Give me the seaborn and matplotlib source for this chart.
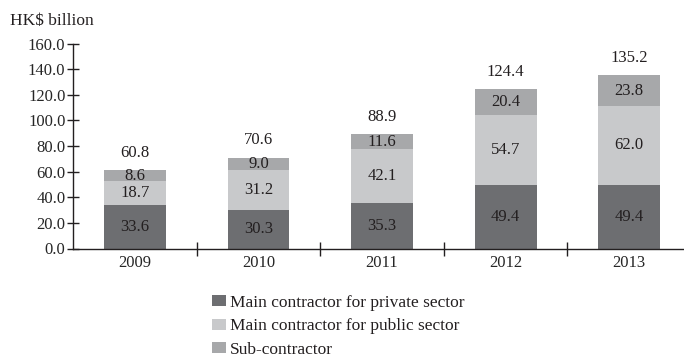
import matplotlib
matplotlib.use("Agg")
import matplotlib.pyplot as plt
from matplotlib.patches import Patch
import seaborn as sns
import pandas as pd

years = ["2009", "2010", "2011", "2012", "2013"]
private_sector = [33.6, 30.3, 35.3, 49.4, 49.4]
public_sector = [18.7, 31.2, 42.1, 54.7, 62.0]
sub_contractor = [8.6, 9.0, 11.6, 20.4, 23.8]
totals = [60.8, 70.6, 88.9, 124.4, 135.2]
series_names = ["Main contractor for private sector",
                "Main contractor for public sector",
                "Sub-contractor"]
y_ticks = [0, 20, 40, 60, 80, 100, 120, 140, 160]

colors = ["#6d6e71", "#c8c9cb", "#a7a8aa"]
text_color = "#231f20"
num_size = 12
text_size = 12.5

sns.set_style("white")
plt.rcParams["font.family"] = ["Liberation Serif", "DejaVu Serif"]
plt.rcParams["text.color"] = text_color

df = pd.DataFrame({
    "year": years,
    "private": private_sector,
    "public": public_sector,
    "sub": sub_contractor,
})
df["lower"] = df["private"]
df["middle"] = df["private"] + df["public"]
df["upper"] = df["middle"] + df["sub"]

fig = plt.figure(figsize=(6.84, 3.56), dpi=100)
ax = fig.add_axes([73 / 684, 107.5 / 356, 618 / 684, 205 / 356])

# stacked layers drawn from the full height down
for col, c in zip(["upper", "middle", "lower"], [colors[2], colors[1], colors[0]]):
    sns.barplot(data=df, x="year", y=col, color=c, width=0.5,
                saturation=1, ax=ax, edgecolor="none", linewidth=0)

ax.set_xlim(-0.5, 4.5)
ax.set_ylim(0, 160)
ax.set_yticks(y_ticks)
ax.set_yticklabels([f"{v:.1f}" for v in y_ticks])
ax.set_xlabel("")
ax.set_ylabel("")

for s in ["top", "right"]:
    ax.spines[s].set_visible(False)
for s in ["left", "bottom"]:
    ax.spines[s].set_color(text_color)
    ax.spines[s].set_linewidth(1.0)

ax.tick_params(axis="y", direction="inout", length=9, width=1.0,
               color=text_color, labelsize=num_size, pad=1, left=True)
ax.tick_params(axis="x", which="major", length=0, labelsize=num_size, pad=5)
ax.set_xticks(range(len(years)), minor=False)
ax.set_xticks([0.5, 1.5, 2.5, 3.5], minor=True)
ax.tick_params(axis="x", which="minor", direction="inout", length=10,
               width=1.0, color=text_color, bottom=True)

# value labels
for i in range(len(years)):
    p, q, s = private_sector[i], public_sector[i], sub_contractor[i]
    ax.text(i, p / 2, f"{p:.1f}", ha="center", va="center", fontsize=num_size)
    ax.text(i, p + q / 2, f"{q:.1f}", ha="center", va="center", fontsize=num_size)
    ax.text(i, p + q + s / 2, f"{s:.1f}", ha="center", va="center", fontsize=num_size)
    ax.text(i, totals[i] + 7.5, f"{totals[i]:.1f}", ha="center", va="bottom",
            fontsize=num_size)

fig.text(10 / 684, 1 - 21 / 356, "HK$ billion", ha="left", va="center",
         fontsize=text_size)

handles = [Patch(facecolor=c, edgecolor="none") for c in colors]
fig.legend(handles, series_names, loc="upper left",
           bbox_to_anchor=(205 / 684, 1 - 288 / 356), frameon=False,
           fontsize=text_size, handlelength=0.8, handleheight=0.6,
           handletextpad=0.25, labelspacing=0.42, borderaxespad=0)

fig.savefig("out.png", dpi=100)
